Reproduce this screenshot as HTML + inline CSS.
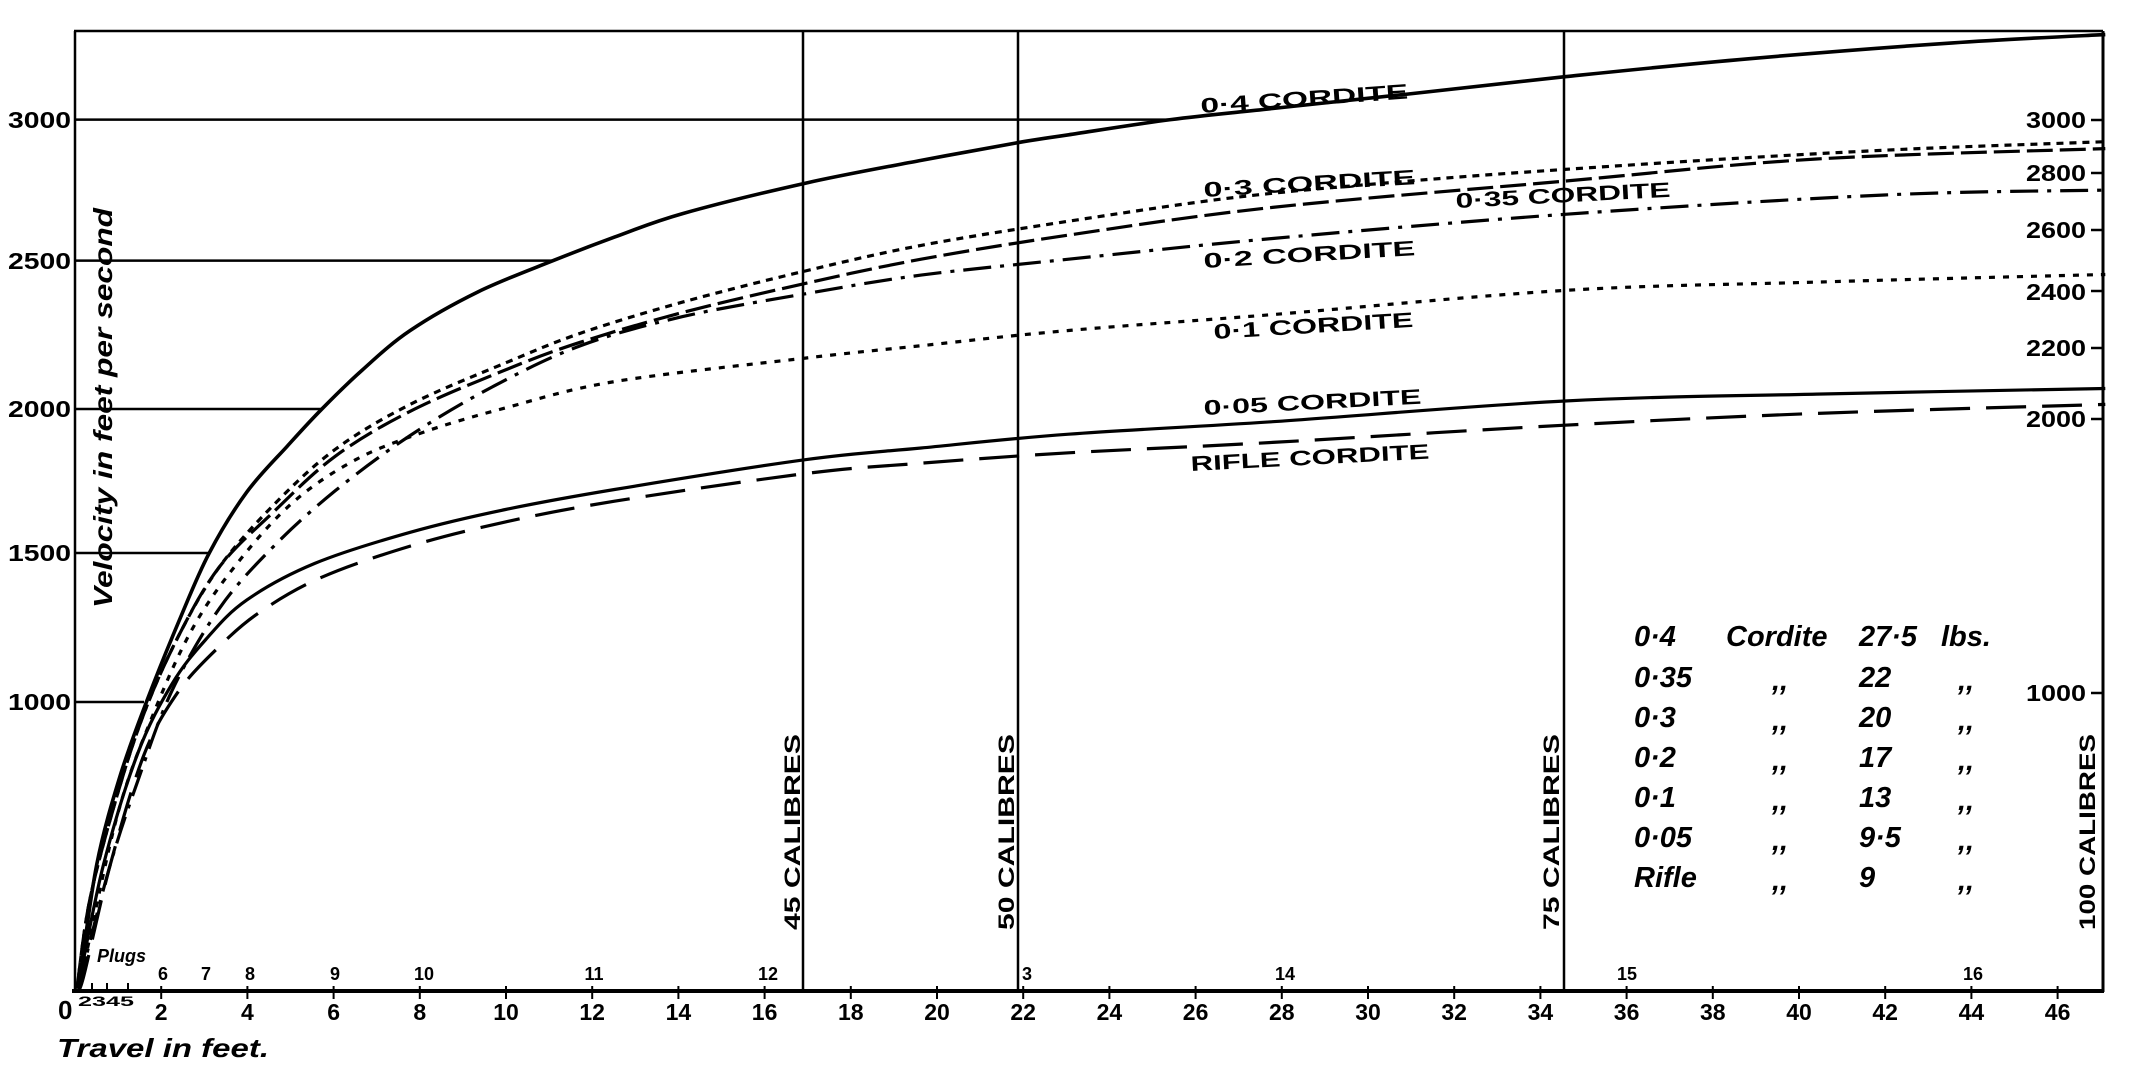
<!DOCTYPE html>
<html><head><meta charset="utf-8"><style>
html,body{margin:0;padding:0;background:#fff;}
svg{display:block;}
text{font-family:"Liberation Sans",sans-serif;font-weight:bold;fill:#000;}
.it{font-style:italic;}
</style></head><body>
<svg id="s" width="2130" height="1084" viewBox="0 0 2130 1084" xmlns="http://www.w3.org/2000/svg">
<g stroke="#000" fill="none">
<line x1="74" y1="31" x2="2103" y2="31" stroke-width="2.5"/>
<line x1="75" y1="31" x2="75" y2="992" stroke-width="2.5"/>
<line x1="2103" y1="31" x2="2103" y2="992" stroke-width="3"/>
<line x1="72" y1="991" x2="2104" y2="991" stroke-width="4"/>
<line x1="75" y1="119.6" x2="1170" y2="119.6" stroke-width="2.5"/>
<line x1="75" y1="260.6" x2="553" y2="260.6" stroke-width="2.5"/>
<line x1="75" y1="409" x2="322" y2="409" stroke-width="2.5"/>
<line x1="75" y1="553" x2="209" y2="553" stroke-width="2.5"/>
<line x1="75" y1="702" x2="144" y2="702" stroke-width="2.5"/>
<line x1="803" y1="31" x2="803" y2="991" stroke-width="2.5"/>
<line x1="1018" y1="31" x2="1018" y2="991" stroke-width="2.5"/>
<line x1="1564" y1="31" x2="1564" y2="991" stroke-width="2.5"/>
<g stroke-width="2.5">
<line x1="2091" y1="120" x2="2103" y2="120"/><line x1="2091" y1="173" x2="2103" y2="173"/>
<line x1="2091" y1="230" x2="2103" y2="230"/><line x1="2091" y1="291" x2="2103" y2="291"/>
<line x1="2091" y1="348" x2="2103" y2="348"/><line x1="2091" y1="419" x2="2103" y2="419"/>
<line x1="2091" y1="693" x2="2103" y2="693"/>
</g>
<g id="ticks" stroke-width="2"></g>
<g id="curves" stroke-width="3.2" stroke-linecap="butt"></g>
</g>
<g font-size="23">
<text x="71" y="128" text-anchor="end" textLength="63" lengthAdjust="spacingAndGlyphs">3000</text>
<text x="71" y="269" text-anchor="end" textLength="63" lengthAdjust="spacingAndGlyphs">2500</text>
<text x="71" y="417" text-anchor="end" textLength="63" lengthAdjust="spacingAndGlyphs">2000</text>
<text x="71" y="561" text-anchor="end" textLength="63" lengthAdjust="spacingAndGlyphs">1500</text>
<text x="71" y="710" text-anchor="end" textLength="63" lengthAdjust="spacingAndGlyphs">1000</text>
<text x="2086" y="128" text-anchor="end" textLength="60" lengthAdjust="spacingAndGlyphs">3000</text>
<text x="2086" y="181" text-anchor="end" textLength="60" lengthAdjust="spacingAndGlyphs">2800</text>
<text x="2086" y="238" text-anchor="end" textLength="60" lengthAdjust="spacingAndGlyphs">2600</text>
<text x="2086" y="300" text-anchor="end" textLength="60" lengthAdjust="spacingAndGlyphs">2400</text>
<text x="2086" y="356" text-anchor="end" textLength="60" lengthAdjust="spacingAndGlyphs">2200</text>
<text x="2086" y="427" text-anchor="end" textLength="60" lengthAdjust="spacingAndGlyphs">2000</text>
<text x="2086" y="701" text-anchor="end" textLength="60" lengthAdjust="spacingAndGlyphs">1000</text>
</g>
<g id="xl" font-size="23" text-anchor="middle"></g>
<g font-size="18" text-anchor="middle">
<text x="163" y="980">6</text><text x="206" y="980">7</text><text x="250" y="980">8</text>
<text x="335" y="980">9</text><text x="424" y="980">10</text><text x="594" y="980">11</text>
<text x="768" y="980">12</text><text x="1027" y="980">3</text><text x="1285" y="980">14</text>
<text x="1627" y="980">15</text><text x="1973" y="980">16</text>
</g>
<text x="58" y="1019" font-size="26">0</text>
<text x="78" y="1006" font-size="14" textLength="56" lengthAdjust="spacingAndGlyphs">2345</text>
<text class="it" x="97" y="962" font-size="18">Plugs</text>
<text class="it" x="57" y="1057" font-size="26" textLength="212" lengthAdjust="spacingAndGlyphs">Travel in feet.</text>
<text class="it" font-size="26" transform="translate(112,408) rotate(-90)" text-anchor="middle" textLength="400" lengthAdjust="spacingAndGlyphs">Velocity in feet per second</text>
<g font-size="22" text-anchor="start">
<text transform="translate(800,930) rotate(-90)" textLength="196" lengthAdjust="spacingAndGlyphs">45 CALIBRES</text>
<text transform="translate(1014,930) rotate(-90)" textLength="196" lengthAdjust="spacingAndGlyphs">50 CALIBRES</text>
<text transform="translate(1559,930) rotate(-90)" textLength="196" lengthAdjust="spacingAndGlyphs">75 CALIBRES</text>
<text transform="translate(2095,930) rotate(-90)" textLength="196" lengthAdjust="spacingAndGlyphs">100 CALIBRES</text>
</g>
<g font-size="21">
<text transform="translate(1201,113) rotate(-4)" textLength="208" lengthAdjust="spacingAndGlyphs">0·4  CORDITE</text>
<text transform="translate(1204,197) rotate(-3.5)" textLength="212" lengthAdjust="spacingAndGlyphs">0·3  CORDITE</text>
<text transform="translate(1456,208) rotate(-3)" textLength="215" lengthAdjust="spacingAndGlyphs">0·35 CORDITE</text>
<text transform="translate(1204,268) rotate(-3.5)" textLength="212" lengthAdjust="spacingAndGlyphs">0·2  CORDITE</text>
<text transform="translate(1214,339) rotate(-3.5)" textLength="200" lengthAdjust="spacingAndGlyphs">0·1  CORDITE</text>
<text transform="translate(1204,415) rotate(-3)" textLength="218" lengthAdjust="spacingAndGlyphs">0·05 CORDITE</text>
<text transform="translate(1191,471) rotate(-3)" textLength="239" lengthAdjust="spacingAndGlyphs">RIFLE  CORDITE</text>
</g>
<g class="it" font-size="29">
<text x="1634" y="646">0·4</text><text x="1726" y="646">Cordite</text><text x="1859" y="646">27·5</text><text x="1941" y="646">lbs.</text>
<text x="1634" y="687">0·35</text><text x="1772" y="690">,,</text><text x="1859" y="687">22</text><text x="1958" y="690">,,</text>
<text x="1634" y="727">0·3</text><text x="1772" y="730">,,</text><text x="1859" y="727">20</text><text x="1958" y="730">,,</text>
<text x="1634" y="767">0·2</text><text x="1772" y="770">,,</text><text x="1859" y="767">17</text><text x="1958" y="770">,,</text>
<text x="1634" y="807">0·1</text><text x="1772" y="810">,,</text><text x="1859" y="807">13</text><text x="1958" y="810">,,</text>
<text x="1634" y="847">0·05</text><text x="1772" y="850">,,</text><text x="1859" y="847">9·5</text><text x="1958" y="850">,,</text>
<text x="1634" y="887">Rifle</text><text x="1772" y="890">,,</text><text x="1859" y="887">9</text><text x="1958" y="890">,,</text>
</g>
</svg>
<script>
var NS="http://www.w3.org/2000/svg";
function fx(ft){return 75+43.1*ft;}
function z1(p){return [fx((p[0]-108)/63.27), p[1]/1.4465];}
function z2(p){return [fx(24+(p[0]-60)/63.4), p[1]/1.4465];}
function pts(a,b){var r=[];a.forEach(function(p){r.push(z1(p));});b.forEach(function(p){r.push(z2(p));});r.unshift([77,988]);return r;}
function path(P){var d="M"+P[0][0].toFixed(1)+","+P[0][1].toFixed(1);
for(var i=0;i<P.length-1;i++){var p0=P[i-1]||P[i],p1=P[i],p2=P[i+1],p3=P[i+2]||p2;
var c1=[p1[0]+(p2[0]-p0[0])/6,p1[1]+(p2[1]-p0[1])/6],c2=[p2[0]-(p3[0]-p1[0])/6,p2[1]-(p3[1]-p1[1])/6];
d+="C"+c1[0].toFixed(1)+","+c1[1].toFixed(1)+" "+c2[0].toFixed(1)+","+c2[1].toFixed(1)+" "+p2[0].toFixed(1)+","+p2[1].toFixed(1);}
return d;}
var C=[
{d:null,w:3.6,a:[[115,1415],[140,1250],[175,1120],[215,1010],[260,900],[305,800],[360,712],[420,645],[470,592],[530,535],[600,478],[700,422],[810,377],[900,343],[1000,309],[1180,265],[1350,232],[1500,205]],b:[[0,195],[150,173],[300,157],[500,136],[730,111],[1000,85],[1300,62],[1525,50]]},
{d:"7 6",w:3.2,a:[[130,1300],[170,1150],[210,1030],[260,920],[320,820],[400,730],[490,650],[600,585],[740,525],[850,482],[1000,437],[1180,392],[1350,355]],b:[[0,320],[250,285],[500,262],[730,245],[1000,228],[1250,215],[1525,205]]},
{d:"26 7",w:3.2,a:[[130,1300],[170,1150],[210,1030],[260,920],[320,820],[400,740],[490,660],[600,595],[740,535],[850,495],[1000,452],[1180,410],[1350,375]],b:[[0,340],[300,300],[730,262],[1100,230],[1525,215]]},
{d:"28 9 4 9",w:3.2,a:[[120,1400],[160,1250],[200,1130],[250,1000],[320,880],[400,790],[490,710],[600,630],[720,560],[850,500],[1000,458],[1180,425],[1350,398]],b:[[0,375],[300,345],[730,310],[1200,282],[1525,275]]},
{d:"6 8",w:3.2,a:[[120,1400],[170,1180],[220,1040],[280,910],[350,810],[430,725],[520,665],[620,625],[740,590],[900,552],[1180,518],[1350,500]],b:[[0,478],[300,455],[730,420],[1100,408],[1525,397]]},
{d:null,w:3.2,a:[[115,1415],[150,1250],[200,1090],[250,990],[300,925],[360,868],[460,815],[600,770],[740,737],[900,708],[1180,665],[1350,648]],b:[[0,628],[300,610],[730,580],[1100,570],[1525,562]]},
{d:"40 16",w:3.2,a:[[120,1415],[160,1250],[210,1090],[260,1000],[320,935],[380,885],[470,835],[600,790],[740,755],[900,725],[1180,685],[1350,670]],b:[[0,655],[300,640],[730,615],[1100,598],[1525,585]]}
];
var g=document.getElementById("curves");
C.forEach(function(c){var e=document.createElementNS(NS,"path");e.setAttribute("d",path(pts(c.a,c.b)));e.setAttribute("stroke-width",c.w);if(c.d)e.setAttribute("stroke-dasharray",c.d);g.appendChild(e);});
var t=document.getElementById("ticks"),xl=document.getElementById("xl");
for(var f=2;f<=46;f+=2){var x=fx(f);var l=document.createElementNS(NS,"line");l.setAttribute("x1",x);l.setAttribute("x2",x);l.setAttribute("y1",986);l.setAttribute("y2",999);t.appendChild(l);
var tx=document.createElementNS(NS,"text");tx.setAttribute("x",x);tx.setAttribute("y",1020);tx.textContent=f;xl.appendChild(tx);}
[92,107,128].forEach(function(x){var l=document.createElementNS(NS,"line");l.setAttribute("x1",x);l.setAttribute("x2",x);l.setAttribute("y1",983);l.setAttribute("y2",991);t.appendChild(l);});
</script>
</body></html>
